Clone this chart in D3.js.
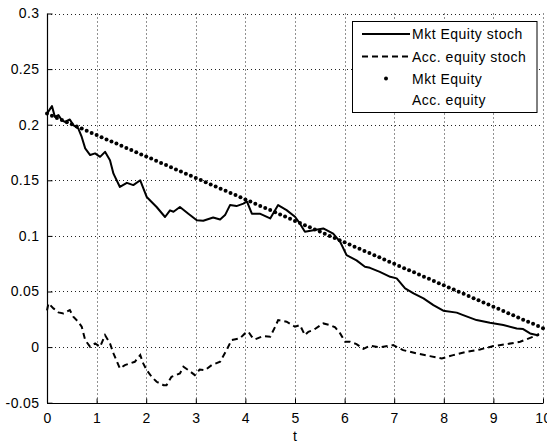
<!DOCTYPE html>
<html>
<head>
<meta charset="utf-8">
<script src="https://cdn.jsdelivr.net/npm/d3@7"></script>
<style>
  html, body { margin: 0; padding: 0; background: #fff; }
  text { font-family: "Liberation Sans", Arial, sans-serif; }
</style>
</head>
<body>
<svg id="chart" width="547" height="443"></svg>
<script>
// ---- Data ----
const xTicks = [0, 1, 2, 3, 4, 5, 6, 7, 8, 9, 10];
const yTicks = [-0.05, 0, 0.05, 0.1, 0.15, 0.2, 0.25, 0.3];
const seriesNames = ["Mkt Equity stoch", "Acc. equity stoch", "Mkt Equity", "Acc. equity"];

// Mkt Equity stoch (solid)
const mktStochT = [0, 0.1, 0.16, 0.23, 0.3, 0.36, 0.46, 0.53, 0.63, 0.7, 0.77, 0.87, 0.97, 1.07, 1.17, 1.27, 1.34, 1.47, 1.61, 1.74, 1.88, 2.01, 2.21, 2.38, 2.48, 2.55, 2.68, 2.85, 3.02, 3.15, 3.35, 3.49, 3.59, 3.69, 3.82, 3.96, 4.03, 4.13, 4.29, 4.5, 4.66, 4.83, 5.0, 5.1, 5.2, 5.37, 5.57, 5.77, 5.91, 6.04, 6.24, 6.41, 6.51, 6.71, 6.92, 7.05, 7.22, 7.39, 7.59, 7.79, 7.99, 8.26, 8.39, 8.66, 8.93, 9.2, 9.47, 9.6, 9.74, 9.87, 9.92];
const mktStochV = [0.210, 0.2167, 0.207, 0.2086, 0.204, 0.2026, 0.2047, 0.1996, 0.1967, 0.189, 0.1787, 0.1727, 0.1742, 0.1711, 0.1756, 0.168, 0.156, 0.144, 0.1477, 0.1457, 0.150, 0.135, 0.126, 0.117, 0.123, 0.1217, 0.126, 0.120, 0.114, 0.1136, 0.1166, 0.1148, 0.1187, 0.1277, 0.1268, 0.129, 0.131, 0.120, 0.120, 0.1157, 0.1277, 0.1232, 0.1172, 0.111, 0.1037, 0.105, 0.1067, 0.102, 0.0947, 0.0827, 0.078, 0.0722, 0.0713, 0.0677, 0.0632, 0.0618, 0.0528, 0.0483, 0.0438, 0.0378, 0.0327, 0.031, 0.0288, 0.0243, 0.0219, 0.0198, 0.0168, 0.0162, 0.0123, 0.0108, 0.012];

// Acc. equity stoch (dashed)
const accStochT = [0, 0.03, 0.13, 0.23, 0.33, 0.46, 0.53, 0.63, 0.7, 0.77, 0.87, 0.97, 1.07, 1.17, 1.27, 1.34, 1.47, 1.57, 1.67, 1.77, 1.88, 1.94, 2.01, 2.11, 2.21, 2.35, 2.41, 2.51, 2.68, 2.75, 2.85, 2.98, 3.08, 3.19, 3.32, 3.49, 3.62, 3.72, 3.89, 3.99, 4.06, 4.13, 4.19, 4.36, 4.5, 4.6, 4.66, 4.83, 5.0, 5.1, 5.2, 5.27, 5.37, 5.57, 5.71, 5.81, 5.91, 6.01, 6.11, 6.24, 6.38, 6.51, 6.71, 6.98, 7.18, 7.45, 7.72, 7.96, 8.19, 8.46, 8.73, 9.0, 9.27, 9.54, 9.8, 9.92];
const accStochV = [0.033, 0.0393, 0.0348, 0.0312, 0.0303, 0.0333, 0.0273, 0.0228, 0.0183, 0.0063, 0.0003, 0.0033, 0.0003, 0.0108, 0.0033, -0.0057, -0.0192, -0.0162, -0.0147, -0.0132, -0.0072, -0.0147, -0.0207, -0.0267, -0.0312, -0.0342, -0.0342, -0.0267, -0.0237, -0.0177, -0.0207, -0.0252, -0.0201, -0.0207, -0.0162, -0.0132, -0.0027, 0.0063, 0.0078, 0.0123, 0.0138, 0.0093, 0.0069, 0.0099, 0.0093, 0.0183, 0.0243, 0.0228, 0.0183, 0.0198, 0.0108, 0.0138, 0.0153, 0.0213, 0.0198, 0.0177, 0.0123, 0.0048, 0.0048, 0.0027, -0.0016, 0.0012, -0.0003, 0.0018, -0.0027, -0.0057, -0.0081, -0.0102, -0.0072, -0.0042, -0.0021, 0.0009, 0.0027, 0.0048, 0.0093, 0.011];

// Mkt Equity (dotted markers), sampled every 0.1
const mktEqV = [0.2100, 0.2081, 0.2061, 0.2042, 0.2023, 0.2004, 0.1984, 0.1965, 0.1946, 0.1926,
  0.1907, 0.1888, 0.1868, 0.1849, 0.1830, 0.1811, 0.1791, 0.1772, 0.1753, 0.1733,
  0.1714, 0.1695, 0.1675, 0.1656, 0.1637, 0.1618, 0.1598, 0.1579, 0.1560, 0.1540,
  0.1521, 0.1502, 0.1482, 0.1463, 0.1444, 0.1425, 0.1405, 0.1386, 0.1367, 0.1347,
  0.1328, 0.1309, 0.1289, 0.1270, 0.1251, 0.1232, 0.1212, 0.1193, 0.1174, 0.1154,
  0.1135, 0.1116, 0.1096, 0.1077, 0.1058, 0.1039, 0.1019, 0.1000, 0.0981, 0.0961,
  0.0942, 0.0923, 0.0903, 0.0884, 0.0865, 0.0846, 0.0826, 0.0807, 0.0788, 0.0768,
  0.0749, 0.0730, 0.0710, 0.0691, 0.0672, 0.0653, 0.0633, 0.0614, 0.0595, 0.0575,
  0.0556, 0.0537, 0.0517, 0.0498, 0.0479, 0.0460, 0.0440, 0.0421, 0.0402, 0.0382,
  0.0363, 0.0344, 0.0324, 0.0305, 0.0286, 0.0267, 0.0247, 0.0228, 0.0209, 0.0189, 0.0170];
const mktEqT = mktEqV.map((v, i) => +(i * 0.1).toFixed(1));

// ---- Layout ----
const svg = d3.select("#chart");
const L = 47, R = 543, T = 13.5, B = 402.7;
const x = d3.scaleLinear().domain([0, 10]).range([L, R]);
const y = d3.scaleLinear().domain([-0.05, 0.3]).range([B, T]);
const fmt = d => (d === 0 ? "0" : String(+d.toFixed(2)));

// grid
const grid = svg.append("g");
grid.selectAll("line.gx").data(xTicks.filter(d => d !== 0)).join("line")
  .attr("x1", d => Math.round(x(d)) + 0.5).attr("x2", d => Math.round(x(d)) + 0.5)
  .attr("y1", T).attr("y2", B)
  .attr("stroke", "#222").attr("stroke-width", 1).attr("stroke-dasharray", "1,3");
grid.selectAll("line.gy").data(yTicks.filter(d => d !== -0.05)).join("line")
  .attr("x1", L).attr("x2", R)
  .attr("y1", d => Math.round(y(d)) + 0.5).attr("y2", d => Math.round(y(d)) + 0.5)
  .attr("stroke", "#222").attr("stroke-width", 1).attr("stroke-dasharray", "1,3");

// axes
const xAxis = d3.axisBottom(x).tickValues(xTicks).tickSize(-5).tickPadding(10).tickFormat(fmt);
const yAxis = d3.axisLeft(y).tickValues(yTicks).tickSize(-5).tickPadding(8).tickFormat(fmt);
const gx = svg.append("g").attr("transform", `translate(0,${Math.round(B) + 0.5})`).call(xAxis);
const gy = svg.append("g").attr("transform", `translate(${L + 0.5},0)`).call(yAxis);
[gx, gy].forEach(g => {
  g.select(".domain").attr("stroke", "#000").attr("stroke-width", 1.2);
  g.selectAll(".tick line").attr("stroke", "#000");
  g.selectAll(".tick text").attr("fill", "#000").style("font-size", "14px")
    .style("letter-spacing", "0.4px").style("font-family", "'Liberation Sans', Arial, sans-serif");
});
gx.select(".domain").attr("d", `M${L},0H${R}`);
gy.select(".domain").attr("d", `M0,${T}V${B}`);

svg.append("text").attr("x", x(5)).attr("y", 436).attr("text-anchor", "middle")
  .attr("dominant-baseline", "central").style("font-size", "14px").text("t");

// series
const lineGen = d3.line().x(d => x(d[0])).y(d => y(d[1]));
const mktStoch = mktStochT.map((t, i) => [t, mktStochV[i]]);
const accStoch = accStochT.map((t, i) => [t, accStochV[i]]);
const mktEq = mktEqT.map((t, i) => [t, mktEqV[i]]);

svg.append("path").datum(accStoch).attr("d", lineGen)
  .attr("fill", "none").attr("stroke", "#000").attr("stroke-width", 2)
  .attr("stroke-dasharray", "6,4");
svg.append("path").datum(mktStoch).attr("d", lineGen)
  .attr("fill", "none").attr("stroke", "#000").attr("stroke-width", 2)
  .attr("stroke-linejoin", "round");
svg.append("g").selectAll("circle").data(mktEq).join("circle")
  .attr("cx", d => x(d[0])).attr("cy", d => y(d[1])).attr("r", 2).attr("fill", "#000");

// legend
const lg = svg.append("g");
lg.append("rect").attr("x", 352.5).attr("y", 21.5).attr("width", 184.5).attr("height", 91)
  .attr("fill", "#fff").attr("stroke", "#000").attr("stroke-width", 1);
const rowY = [34, 56.5, 78.5, 100];
lg.append("line").attr("x1", 362).attr("x2", 410).attr("y1", rowY[0]).attr("y2", rowY[0])
  .attr("stroke", "#000").attr("stroke-width", 2);
lg.append("line").attr("x1", 362).attr("x2", 410).attr("y1", rowY[1]).attr("y2", rowY[1])
  .attr("stroke", "#000").attr("stroke-width", 2).attr("stroke-dasharray", "6,4");
lg.append("circle").attr("cx", 386).attr("cy", rowY[2]).attr("r", 2).attr("fill", "#000");
lg.selectAll("text").data(seriesNames).join("text")
  .attr("x", 412).attr("y", (d, i) => rowY[i]).attr("dominant-baseline", "central")
  .style("font-size", "14px").style("letter-spacing", "0.5px").attr("fill", "#000").text(d => d);
</script>
</body>
</html>
